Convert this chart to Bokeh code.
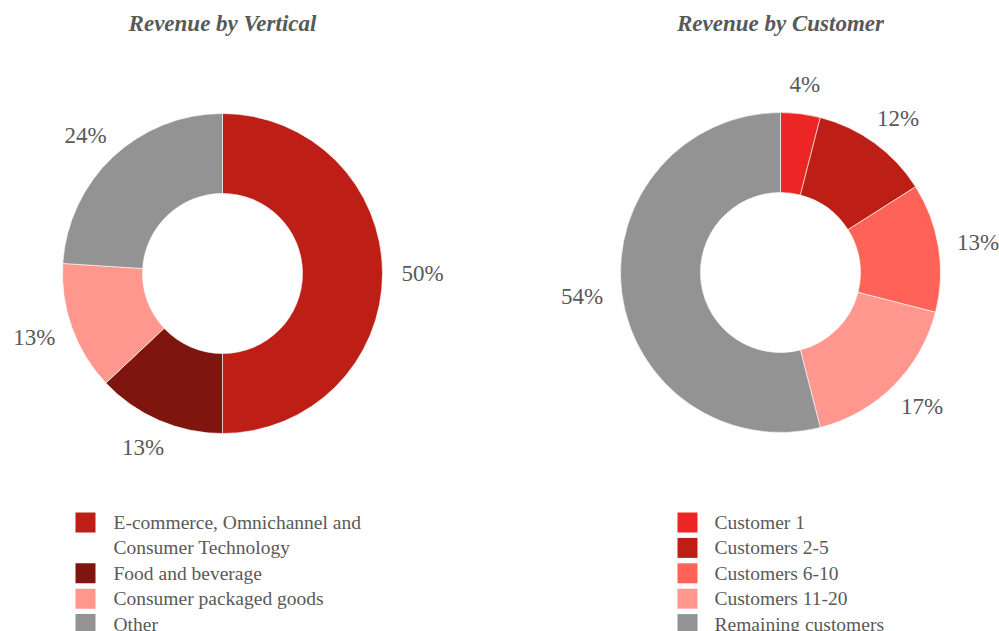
import numpy as np
from bokeh.plotting import figure
from bokeh.models import Range1d, ColumnDataSource
from bokeh.core.properties import value
from bokeh.embed import file_html
from bokeh.resources import INLINE

W, H = 999, 631

# ---- data ----
vertical_labels = ["E-commerce, Omnichannel and\nConsumer Technology", "Food and beverage",
                   "Consumer packaged goods", "Other"]
vertical_values = [50, 13, 13, 24]
vertical_colors = ["#BD1F16", "#7E150E", "#FF978E", "#939393"]

customer_labels = ["Customer 1", "Customers 2-5", "Customers 6-10", "Customers 11-20",
                   "Remaining customers"]
customer_values = [4, 12, 13, 17, 54]
customer_colors = ["#EC2624", "#BD1F16", "#FF6357", "#FF978E", "#939393"]

titles = ["Revenue by Vertical", "Revenue by Customer"]

# ---- figure ----
p = figure(width=W, height=H, x_range=Range1d(0, W), y_range=Range1d(0, H),
           output_backend="svg", toolbar_location=None, min_border=0,
           x_axis_type=None, y_axis_type=None)
p.grid.visible = False
p.outline_line_color = None
p.background_fill_color = "white"
p.border_fill_color = "white"

FONT = value("Liberation Serif")
GRAY = "#595959"
LABEL_PX = 23


def Y(px):
    return H - px


def donut(cx, cy_px, labels, values, colors, title, legend_sq_x, legend_txt_x):
    cy = Y(cy_px)
    v = np.array(values, dtype=float)
    frac = v / v.sum()
    cum_end = np.cumsum(frac)
    cum_start = cum_end - frac
    start = np.pi / 2 - cum_end * 2 * np.pi
    end = np.pi / 2 - cum_start * 2 * np.pi
    src = ColumnDataSource(dict(x=[cx] * len(v), y=[cy] * len(v), start=start, end=end,
                                color=colors))
    p.annular_wedge(x="x", y="y", inner_radius=80, outer_radius=160,
                    start_angle="start", end_angle="end", color="color",
                    line_color="white", line_width=0.6, direction="anticlock", source=src)

    # percentage labels: "outside end" placement, box pushed out along mid-angle
    mid = (start + end) / 2
    texts = [f"{int(round(x))}%" for x in v]
    r0 = 179
    bw = np.array([len(t[:-1]) * 0.5 * LABEL_PX + 0.833 * LABEL_PX for t in texts])
    bh = LABEL_PX * 0.95
    lx = cx + r0 * np.cos(mid) + bw / 2 * np.cos(mid)
    ly = cy + r0 * np.sin(mid) + bh / 2 * np.sin(mid)
    lab_src = ColumnDataSource(dict(x=lx, y=ly, text=texts))
    p.text(x="x", y="y", text="text", source=lab_src, text_font=FONT,
           text_font_size=f"{LABEL_PX}px", text_color=GRAY, text_align="center",
           text_baseline="middle")

    # title
    p.text(x=[cx], y=[Y(23)], text=[title], text_font=FONT, text_font_size="23px",
           text_font_style="bold italic", text_color=GRAY, text_align="center",
           text_baseline="middle")

    # legend
    sq_x, sq_y, sq_c, tx, ty, tt = [], [], [], [], [], []
    row = 0
    step = 25.4
    for lab, col in zip(labels, colors):
        sq_x.append(legend_sq_x + 10)
        sq_y.append(Y(522 + step * row))
        sq_c.append(col)
        for line in lab.split("\n"):
            tx.append(legend_txt_x)
            ty.append(Y(522 + step * row))
            tt.append(line)
            row += 1
    p.rect(x=sq_x, y=sq_y, width=20, height=20, color=sq_c, line_color=None)
    p.text(x=tx, y=ty, text=tt, text_font=FONT, text_font_size="19.5px",
           text_color=GRAY, text_align="left", text_baseline="middle")


donut(222, 273, vertical_labels, vertical_values, vertical_colors, titles[0], 75, 113)
donut(780, 272, customer_labels, customer_values, customer_colors, titles[1], 677, 714)

open("out.html", "w").write(file_html(p, INLINE))
